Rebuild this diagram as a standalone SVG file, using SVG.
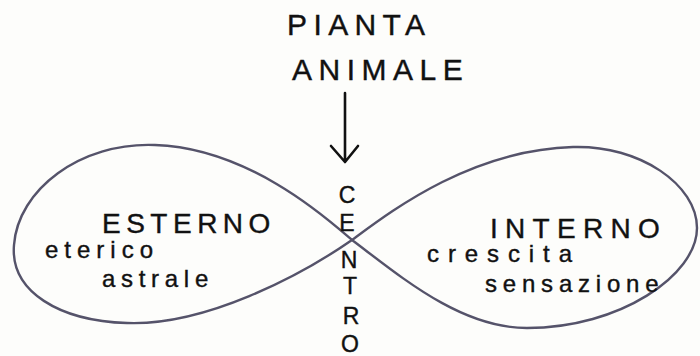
<svg xmlns="http://www.w3.org/2000/svg" width="700" height="356" viewBox="0 0 700 356">
  <style>
    .loop { fill: none; stroke: #55536a; stroke-width: 2.4; stroke-linecap: round; }
    .ink { fill: #111; stroke: #111; stroke-width: 0.4; font-family: "Liberation Sans", "DejaVu Sans", sans-serif; }
    .cap { font-size: 30px; }
    .head { font-size: 28px; }
    .word { font-size: 24px; }
    .vert { font-size: 23px; text-anchor: middle; }
    .arrow { fill: none; stroke: #111; stroke-width: 2.6; stroke-linecap: round; stroke-linejoin: round; }
  </style>
  <rect width="700" height="356" fill="#fdfdfb"/>

  <!-- infinity figure, crossing point at (352,240) -->
  <g id="connectors">
    <path class="loop" d="M352,240 C330,221 250,148 155,145 C80,142 18,190 14,245 C10,292 60,321 127,323 C205,326 300,276 352,240"/>
    <path class="loop" d="M352,240 C390,212 470,150 573,147 C640,145 697,185 697,228 C697,275 620,328 527,328 C460,328 400,276 352,240"/>
    <path class="arrow" d="M345,93 L345,161 M331,146 L345,162 L358,146"/>
  </g>

  <g id="top">
    <text class="ink cap" x="287" y="35" letter-spacing="6.4">PIANTA</text>
    <text class="ink cap" x="292" y="80" letter-spacing="6.5">ANIMALE</text>
  </g>

  <g id="esterno">
    <text class="ink head" x="102" y="233" letter-spacing="5.5">ESTERNO</text>
    <text class="ink word" x="45" y="258" letter-spacing="6">eterico</text>
    <text class="ink word" x="102" y="287" letter-spacing="5.7">astrale</text>
  </g>

  <g id="interno">
    <text class="ink head" x="490" y="238" letter-spacing="7.3">INTERNO</text>
    <text class="ink word" x="427" y="262" letter-spacing="8.9">crescita</text>
    <text class="ink word" x="485" y="292" letter-spacing="5.8">sensazione</text>
  </g>

  <g id="centro">
    <text class="ink vert" x="347" y="203">C</text>
    <text class="ink vert" x="347" y="231">E</text>
    <text class="ink vert" x="349" y="268">N</text>
    <text class="ink vert" x="350" y="294">T</text>
    <text class="ink vert" x="351" y="324">R</text>
    <text class="ink vert" x="350" y="352" font-size="21">O</text>
  </g>
</svg>
